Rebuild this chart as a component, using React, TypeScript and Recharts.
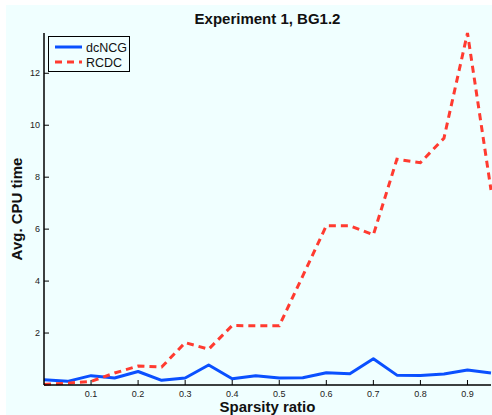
import { LineChart, Line, XAxis, YAxis } from "recharts";

// sparsity ratio sampled every 0.05
const sparsity = [0, 0.05, 0.1, 0.15, 0.2, 0.25, 0.3, 0.35, 0.4, 0.45, 0.5, 0.55, 0.6, 0.65, 0.7, 0.75, 0.8, 0.85, 0.9, 0.95];
const dcNCG = [0.2, 0.14, 0.36, 0.27, 0.52, 0.18, 0.27, 0.77, 0.24, 0.36, 0.27, 0.28, 0.47, 0.43, 1.01, 0.38, 0.37, 0.42, 0.58, 0.46];
const rcdc = [0.02, 0.07, 0.14, 0.46, 0.73, 0.69, 1.63, 1.38, 2.29, 2.28, 2.28, 4.2, 6.13, 6.13, 5.78, 8.69, 8.56, 9.5, 13.55, 7.51];

const xTicks = [0.1, 0.2, 0.3, 0.4, 0.5, 0.6, 0.7, 0.8, 0.9];
const yTicks = [2, 4, 6, 8, 10, 12];

const data = sparsity.map((s, i) => ({ s, dcNCG: dcNCG[i], RCDC: rcdc[i] }));

const BG = "#F0FFFF";
const FONT = "'Liberation Sans', Arial, Helvetica, sans-serif";
const BLUE = "#0A50FF";
const RED = "#FF3B30";
const TICK = 5;

const BottomTick = ({ x, y, payload }: any) => (
  <g>
    <line x1={x} x2={x} y1={y} y2={y - TICK} stroke="#000" />
    <text x={x} y={y + 12} textAnchor="middle" fontSize={9} fill="#222" fontFamily={FONT}>
      {payload.value}
    </text>
  </g>
);

const TopTick = ({ x, y }: any) => <line x1={x} x2={x} y1={y} y2={y + TICK} stroke="#000" />;

const LeftTick = ({ x, y, payload }: any) => (
  <g>
    <line x1={x} x2={x + TICK} y1={y} y2={y} stroke="#000" />
    <text x={x - 4} y={y + 3} textAnchor="end" fontSize={9} fill="#222" fontFamily={FONT}>
      {payload.value}
    </text>
  </g>
);

const RightTick = ({ x, y }: any) => <line x1={x} x2={x - TICK} y1={y} y2={y} stroke="#000" />;

const axisLine = { stroke: "#000", strokeWidth: 1.5 };

export default function App() {
  return (
    <div style={{ position: "absolute", left: 0, top: 0, width: 492, height: 415, background: "#fff", fontFamily: FONT }}>
      <div style={{ position: "absolute", left: 6, top: 5, width: 486, height: 410, background: BG }} />
      <div style={{ position: "absolute", left: 0, top: 0 }}>
        <LineChart width={492} height={415} data={data} margin={{ top: 33, right: 1, bottom: 0, left: 0 }}>
          <XAxis
            dataKey="s"
            type="number"
            domain={[0, 0.95]}
            ticks={xTicks}
            height={30}
            tickSize={0}
            tickMargin={0}
            tickLine={false}
            axisLine={axisLine}
            tick={<BottomTick />}
            interval={0}
          />
          <XAxis
            xAxisId="top"
            dataKey="s"
            type="number"
            orientation="top"
            domain={[0, 0.95]}
            ticks={xTicks}
            height={0}
            tickSize={0}
            tickMargin={0}
            tickLine={false}
            axisLine={axisLine}
            tick={<TopTick />}
            interval={0}
          />
          <YAxis
            type="number"
            domain={[0, 13.55]}
            ticks={yTicks}
            width={44}
            tickSize={0}
            tickMargin={0}
            tickLine={false}
            axisLine={axisLine}
            tick={<LeftTick />}
            interval={0}
          />
          <YAxis
            yAxisId="right"
            orientation="right"
            type="number"
            domain={[0, 13.55]}
            ticks={yTicks}
            width={0}
            tickSize={0}
            tickMargin={0}
            tickLine={false}
            axisLine={axisLine}
            tick={<RightTick />}
            interval={0}
          />
          <Line
            type="linear"
            dataKey="dcNCG"
            stroke={BLUE}
            strokeWidth={3}
            dot={false}
            strokeLinejoin="round"
            isAnimationActive={false}
          />
          <Line
            type="linear"
            dataKey="RCDC"
            stroke={RED}
            strokeWidth={3}
            strokeDasharray="7 5"
            dot={false}
            isAnimationActive={false}
          />
        </LineChart>
      </div>

      {/* title and axis labels */}
      <div style={{ position: "absolute", left: 44, width: 447, top: 10, textAlign: "center", fontSize: 15, fontWeight: 700, color: "#111" }}>
        Experiment 1, BG1.2
      </div>
      <div style={{ position: "absolute", left: 44, width: 447, top: 398, textAlign: "center", fontSize: 15, fontWeight: 700, color: "#111" }}>
        Sparsity ratio
      </div>
      <div
        style={{
          position: "absolute",
          left: 16,
          top: 209,
          transform: "translate(-50%, -50%) rotate(-90deg)",
          whiteSpace: "nowrap",
          fontSize: 15,
          fontWeight: 700,
          color: "#111",
        }}
      >
        Avg. CPU time
      </div>

      {/* legend */}
      <div style={{ position: "absolute", left: 48, top: 36, width: 80, height: 34, border: "1px solid #000", background: BG }}>
        <svg width={80} height={34} style={{ position: "absolute", left: 0, top: 0 }}>
          <line x1={6} x2={33} y1={10} y2={10} stroke={BLUE} strokeWidth={3} />
          <line x1={6} x2={33} y1={25} y2={25} stroke={RED} strokeWidth={3} strokeDasharray="7 5" />
          <text x={37} y={14.5} fontSize={12.5} fontFamily={FONT} fill="#111">dcNCG</text>
          <text x={37} y={29.5} fontSize={12.5} fontFamily={FONT} fill="#111">RCDC</text>
        </svg>
      </div>
    </div>
  );
}
